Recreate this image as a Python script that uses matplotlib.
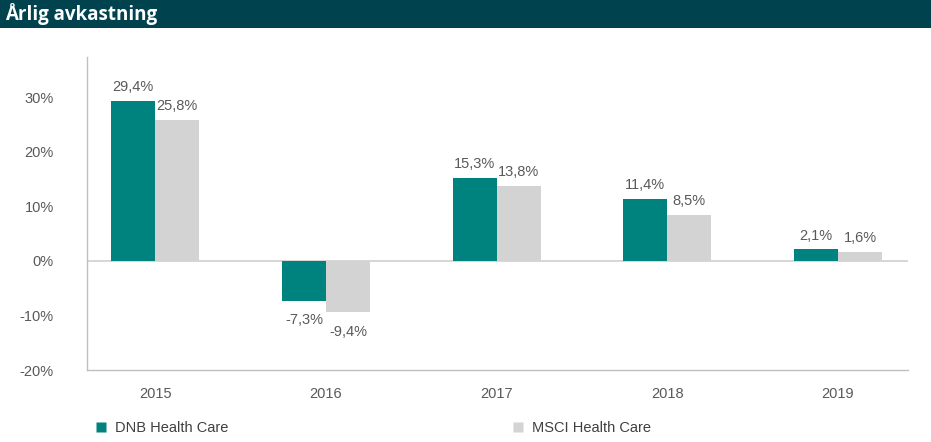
import matplotlib
matplotlib.use("Agg")
import matplotlib.pyplot as plt
import numpy as np
from matplotlib.patches import Rectangle
from matplotlib.lines import Line2D

categories = ["2015", "2016", "2017", "2018", "2019"]
dnb = [29.4, -7.3, 15.3, 11.4, 2.1]
msci = [25.8, -9.4, 13.8, 8.5, 1.6]
series_names = ["DNB Health Care", "MSCI Health Care"]
yticks = [-20, -10, 0, 10, 20, 30]

TEAL = "#00837F"
GREY = "#D3D3D3"
TXT = "#595959"
FONT = ["Liberation Sans Narrow", "Liberation Sans", "DejaVu Sans"]

W, H = 931, 442
fig = plt.figure(figsize=(W / 100, H / 100), dpi=100)
fig.patch.set_facecolor("white")

# title bar
fig.add_artist(Rectangle((0, 1 - 28 / H), 1, 28 / H, transform=fig.transFigure,
                         facecolor="#00434F", edgecolor="none"))
fig.text(5 / W, 1 - 14 / H, "Årlig avkastning", color="white", fontsize=13.5,
         fontweight="bold", family=["Open Sans", "DejaVu Sans"], va="center", ha="left")

ax = fig.add_axes([87 / W, (H - 370) / H, 821 / W, (370 - 57) / H])
x = np.arange(len(categories))
bw = 0.257
b1 = ax.bar(x - bw / 2, dnb, bw, color=TEAL, zorder=3)
b2 = ax.bar(x + bw / 2, msci, bw, color=GREY, zorder=3)

ax.set_xlim(-0.4, 4.41)
ax.set_ylim(-20, 37.4)
ax.set_yticks(yticks)
ax.set_yticklabels([f"{t}%" for t in yticks])
ax.set_xticks(x)
ax.set_xticklabels(categories)
ax.tick_params(length=0, colors=TXT, labelsize=10.5)
ax.tick_params(axis="y", pad=24)
ax.tick_params(axis="x", pad=12)
for lab in ax.get_xticklabels() + ax.get_yticklabels():
    lab.set_family(FONT)
for s in ["top", "right"]:
    ax.spines[s].set_visible(False)
for s in ["left", "bottom"]:
    ax.spines[s].set_color("#BFBFBF")
    ax.spines[s].set_linewidth(1)
ax.axhline(0, color="#D0D0D0", lw=1.2, zorder=2)

def fmt(v):
    return f"{v:.1f}%".replace(".", ",")

for bars, vals in ((b1, dnb), (b2, msci)):
    for b, v in zip(bars, vals):
        cx = b.get_x() + b.get_width() / 2
        if v >= 0:
            ax.annotate(fmt(v), (cx, v), xytext=(0, 5), textcoords="offset points",
                        ha="center", va="bottom", color=TXT, fontsize=10.5, family=FONT)
        else:
            ax.annotate(fmt(v), (cx, v), xytext=(0, -9), textcoords="offset points",
                        ha="center", va="top", color=TXT, fontsize=10.5, family=FONT)

# legends
for name, col, px in ((series_names[0], TEAL, 95), (series_names[1], GREY, 512)):
    h = Line2D([], [], marker="s", color="none", markerfacecolor=col,
               markeredgecolor="none", markersize=7)
    leg = fig.legend([h], [name], loc="center left",
                     bbox_to_anchor=(px / W, 1 - 428 / H), frameon=False,
                     handlelength=0.8, handletextpad=0.6, borderaxespad=0,
                     borderpad=0, prop={"family": FONT, "size": 10.5})
    for t in leg.get_texts():
        t.set_color("#404040")

fig.savefig("out.png", dpi=100, facecolor="white")
